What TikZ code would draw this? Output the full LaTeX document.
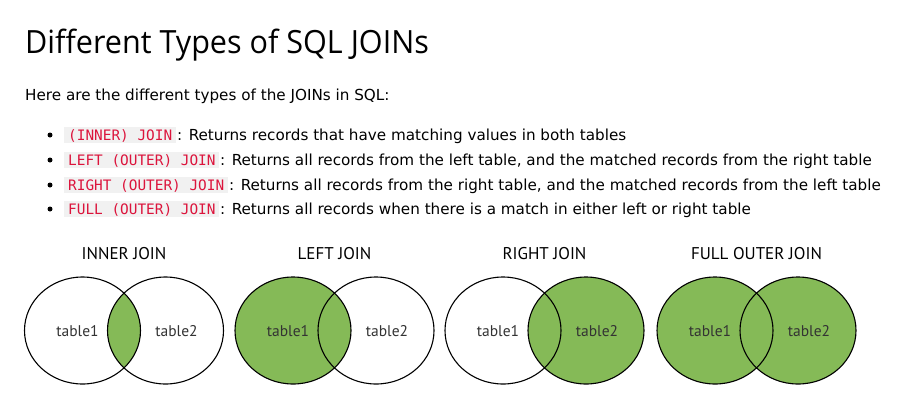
\documentclass[tikz,border=0pt]{standalone}
\usepackage{fontspec}
\setmainfont{DejaVu Sans}
\newfontfamily\titlefont{Open Sans}
\newfontfamily\codefont{DejaVu Sans Mono}
\newfontfamily\vennfont{PT Sans}
\definecolor{codered}{HTML}{DC143C}
\definecolor{codebg}{HTML}{F1F1F1}
\definecolor{venngreen}{HTML}{85BA57}
\definecolor{labelgray}{HTML}{333333}
\tikzset{
  bodytext/.style={anchor=base west, inner sep=0pt, font=\fontsize{15.2}{18}\selectfont},
  codetext/.style={anchor=base west, inner sep=0pt, text=codered, font=\codefont\fontsize{14.4}{18}\selectfont},
  codebox/.style={fill=codebg, draw=none},
  bulletdot/.style={circle, fill=black, inner sep=0pt, minimum size=5pt},
  venntitle/.style={anchor=center, inner sep=0pt, text=black, font=\vennfont\fontsize{17}{20}\selectfont},
  vennlabel/.style={anchor=center, inner sep=0pt, text=labelgray, font=\vennfont\fontsize{15.5}{18}\selectfont},
  vennline/.style={draw=black, line width=1.1pt},
  vennfill/.style={fill=venngreen},
}
\begin{document}
\begin{tikzpicture}[x=1pt,y=-1pt]
\useasboundingbox (0,0) rectangle (920,402);
\fill[white] (0,0) rectangle (920,402);
% heading
\node[anchor=base west, inner sep=0pt, font=\titlefont\fontsize{32}{38}\selectfont] (title) at (25,53) {\scalebox{0.955}[1]{Different Types of SQL JOINs}};
\node[bodytext] (intro) at (25,100) {Here are the different types of the JOINs in SQL:};
% bullets
\foreach \y/\w/\code/\txt [count=\i] in {
  140/176/{(INNER) JOIN}/{: Returns records that have matching values in both tables},
  165/219/{LEFT (OUTER) JOIN}/{: Returns all records from the left table, and the matched records from the right table},
  190/228/{RIGHT (OUTER) JOIN}/{: Returns all records from the right table, and the matched records from the left table},
  214/219/{FULL (OUTER) JOIN}/{: Returns all records when there is a match in either left or right table}}{
  \node[bulletdot] (dot\i) at (50,\y-5) {};
  \fill[codebox] (64,\y-13) rectangle (\w,\y+3);
  \node[codetext] (code\i) at (68,\y) {\code};
  \node[bodytext] (desc\i) at (\w+1,\y) {\txt};
}
% venn diagrams
\foreach \cx/\name/\mode [count=\i] in {82.5/INNER JOIN/0, 293/LEFT JOIN/1, 503/RIGHT JOIN/2, 715/FULL OUTER JOIN/3}{
  \coordinate (L\i) at (\cx,330.5);
  \coordinate (R\i) at (\cx+83,330.5);
  \ifcase\mode
    \begin{scope}
      \clip (L\i) ellipse [x radius=58pt, y radius=53.5pt];
      \fill[vennfill] (R\i) ellipse [x radius=58pt, y radius=53.5pt];
    \end{scope}
  \or
    \fill[vennfill] (L\i) ellipse [x radius=58pt, y radius=53.5pt];
  \or
    \fill[vennfill] (R\i) ellipse [x radius=58pt, y radius=53.5pt];
  \or
    \fill[vennfill] (L\i) ellipse [x radius=58pt, y radius=53.5pt];
    \fill[vennfill] (R\i) ellipse [x radius=58pt, y radius=53.5pt];
  \fi
  \draw[vennline] (L\i) ellipse [x radius=58pt, y radius=53.5pt];
  \draw[vennline] (R\i) ellipse [x radius=58pt, y radius=53.5pt];
  \node[venntitle] (vt\i) at (\cx+41.5,254) {\name};
  \node[vennlabel] (ta\i) at (\cx-5,331) {table1};
  \node[vennlabel] (tb\i) at (\cx+94,331) {table2};
}
\end{tikzpicture}
\end{document}
